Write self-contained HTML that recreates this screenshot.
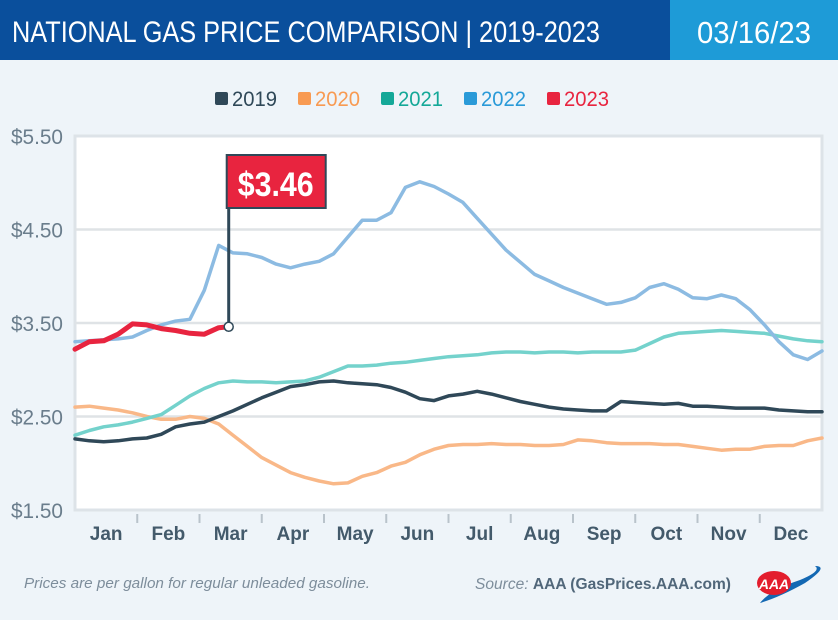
<!DOCTYPE html>
<html><head><meta charset="utf-8"><style>
body{margin:0;width:838px;height:615px;overflow:hidden;background:#eef4f9;font-family:"Liberation Sans",sans-serif;}
.narrow{font-family:"Liberation Sans Narrow","Liberation Sans",sans-serif;}
</style></head><body>
<svg width="838" height="615" xmlns="http://www.w3.org/2000/svg">
<rect x="0" y="0" width="838" height="60" fill="#0a4f9c"/>
<rect x="670" y="0" width="168" height="60" fill="#1e9bd7"/>
<text x="12" y="42" fill="#fff" font-size="30" class="narrow" textLength="588" lengthAdjust="spacingAndGlyphs">NATIONAL GAS PRICE COMPARISON | <tspan font-weight="normal">2019-2023</tspan></text>
<text x="754" y="43" fill="#fff" font-size="31" text-anchor="middle" class="narrow" textLength="114" lengthAdjust="spacingAndGlyphs">03/16/23</text>
<g id="legend"></g>
<rect x="75" y="136" width="747" height="374" fill="#fff" stroke="#dde3e8" stroke-width="3"/>
<g id="grid"></g><g id="axes"></g><g id="series"></g><g id="flag"></g>
<text x="24" y="588" fill="#7d8d9b" font-size="15" font-style="italic" textLength="346" lengthAdjust="spacingAndGlyphs">Prices are per gallon for regular unleaded gasoline.</text>
<text x="475" y="589" fill="#51677a" font-size="15.5" textLength="256" lengthAdjust="spacingAndGlyphs"><tspan font-style="italic" fill="#7d8d9b">Source: </tspan><tspan font-weight="bold">AAA (GasPrices.AAA.com)</tspan></text>
<g>
<path d="M760 603 Q770 590 800 580 Q822 571 815 566 Q830 566 805 583 Q780 597 760 603Z" fill="#1368b3"/>
<ellipse cx="774" cy="583" rx="17" ry="12" fill="#e31d2d"/>
<text x="774" y="589" fill="#fff" font-size="14" font-weight="bold" font-style="italic" text-anchor="middle">AAA</text>
</g>
</svg>
<script>
const years=["2019","2020","2021","2022","2023"];
const colors=["#2f4858","#f9b888","#74d2cc","#8cbbe2","#e8243f"];
const legendColors=["#2f4858","#f89a52","#14a898","#2a9ad8","#e8243f"];
const yTicks=[5.5,4.5,3.5,2.5,1.5];
const yTickLabels=["$5.50","$4.50","$3.50","$2.50","$1.50"];
const months=["Jan","Feb","Mar","Apr","May","Jun","Jul","Aug","Sep","Oct","Nov","Dec"];
const s2019=[2.26,2.24,2.23,2.24,2.26,2.27,2.31,2.39,2.42,2.44,2.50,2.56,2.63,2.70,2.76,2.82,2.84,2.87,2.88,2.86,2.85,2.84,2.81,2.76,2.69,2.67,2.72,2.74,2.77,2.74,2.70,2.66,2.63,2.60,2.58,2.57,2.56,2.56,2.66,2.65,2.64,2.63,2.64,2.61,2.61,2.60,2.59,2.59,2.59,2.57,2.56,2.55,2.55];
const s2020=[2.60,2.61,2.59,2.57,2.54,2.50,2.47,2.47,2.50,2.48,2.42,2.30,2.18,2.06,1.98,1.90,1.85,1.81,1.78,1.79,1.86,1.90,1.97,2.01,2.09,2.15,2.19,2.20,2.20,2.21,2.20,2.20,2.19,2.19,2.20,2.25,2.24,2.22,2.21,2.21,2.21,2.20,2.20,2.18,2.16,2.14,2.15,2.15,2.18,2.19,2.19,2.24,2.27];
const s2021=[2.30,2.35,2.39,2.41,2.44,2.48,2.52,2.62,2.72,2.80,2.86,2.88,2.87,2.87,2.86,2.87,2.88,2.92,2.98,3.04,3.04,3.05,3.07,3.08,3.10,3.12,3.14,3.15,3.16,3.18,3.19,3.19,3.18,3.19,3.19,3.18,3.19,3.19,3.19,3.21,3.28,3.35,3.39,3.40,3.41,3.42,3.41,3.40,3.39,3.36,3.33,3.31,3.30];
const s2022=[3.30,3.31,3.32,3.33,3.35,3.42,3.48,3.52,3.54,3.85,4.33,4.25,4.24,4.20,4.13,4.09,4.13,4.16,4.24,4.42,4.60,4.60,4.68,4.95,5.01,4.96,4.88,4.79,4.62,4.45,4.28,4.15,4.02,3.95,3.88,3.82,3.76,3.70,3.72,3.77,3.88,3.92,3.86,3.77,3.76,3.80,3.76,3.64,3.48,3.30,3.16,3.11,3.20];
const weeks2023=[0,1,2,3,4,5,6,7,8,9,10,10.7];
const s2023=[3.22,3.30,3.31,3.38,3.49,3.48,3.44,3.42,3.39,3.38,3.45,3.46];
const currentLabel="$3.46";

const NS="http://www.w3.org/2000/svg";
const X0=75,X1=822,Y0=510,Y1=136;
const xW=w=>X0+w*(X1-X0)/52;
const yV=v=>Y0-(v-1.5)*(Y0-Y1)/4;
function mk(tag,attrs,parent){const e=document.createElementNS(NS,tag);for(const k in attrs)e.setAttribute(k,attrs[k]);parent.appendChild(e);return e;}
const grid=document.getElementById('grid'),axes=document.getElementById('axes'),ser=document.getElementById('series'),leg=document.getElementById('legend'),flag=document.getElementById('flag');
yTicks.forEach((v,i)=>{
  if(v>1.5&&v<5.5){const l=mk('line',{x1:X0,x2:X1,y1:yV(v),y2:yV(v),stroke:'#dfe3e6','stroke-width':2.5},grid);
  
  }
  const t=mk('text',{x:63,y:yV(v)+8,'text-anchor':'end',fill:'#6a7d8c','font-size':21,class:'narrow',textLength:52,lengthAdjust:'spacingAndGlyphs'},axes);
  t.textContent=yTickLabels[i];
  
  
});
months.forEach((m,i)=>{
  const cx=X0+(i+0.5)*(X1-X0)/12;
  const t=mk('text',{x:cx,y:540,'text-anchor':'middle',fill:'#435a6b','font-size':19,'font-weight':'bold',class:'narrow'},axes);
  t.textContent=m;
  
  
  if(i>0){const bx=X0+i*(X1-X0)/12;const tk=mk('line',{x1:bx,x2:bx,y1:514,y2:523,stroke:'#b9c3cb','stroke-width':2},axes);
  
  }
});
function path(ws,vals){return vals.map((v,i)=>(i?'L':'M')+xW(ws[i]).toFixed(1)+' '+yV(v).toFixed(1)).join(' ');}
const wk=s2019.map((_,i)=>i);
const all={"2019":[wk,s2019],"2020":[wk,s2020],"2021":[wk,s2021],"2022":[wk,s2022],"2023":[weeks2023,s2023]};
["2020","2019","2021","2022","2023"].forEach(y=>{
  const i=years.indexOf(y);
  const p=mk('path',{d:path(all[y][0],all[y][1]),fill:'none',stroke:colors[i],'stroke-width':y==="2023"?5:3.5,'stroke-linejoin':'round','stroke-linecap':'round'},ser);
  
  
});
let lx=215;
years.forEach((y,i)=>{
  const r=mk('rect',{x:lx,y:92,width:13,height:13,rx:2,fill:legendColors[i]},leg);
  
  
  const t=mk('text',{x:lx+17,y:106,fill:legendColors[i],'font-size':21,class:'narrow',textLength:45,lengthAdjust:'spacingAndGlyphs'},leg);
  t.textContent=y;
  
  
  lx+=83;
});
const lw=weeks2023[weeks2023.length-1],lv=s2023[s2023.length-1];
const fx=xW(lw),fy=yV(lv);
const pole=mk('line',{x1:fx,x2:fx,y1:155,y2:fy,stroke:'#2f4858','stroke-width':3},flag);


const fr=mk('rect',{x:fx-2,y:155,width:99,height:53,fill:'#e8243f',stroke:'#2f4858','stroke-width':2},flag);


const ft=mk('text',{x:fx+47,y:196,'text-anchor':'middle',fill:'#fff','font-size':34,'font-weight':'bold',class:'narrow',textLength:76,lengthAdjust:'spacingAndGlyphs'},flag);
ft.textContent=currentLabel;


const dot=mk('circle',{cx:fx,cy:fy,r:4.5,fill:'#fff',stroke:'#2f4858','stroke-width':1.5},flag);


</script>
</body></html>
